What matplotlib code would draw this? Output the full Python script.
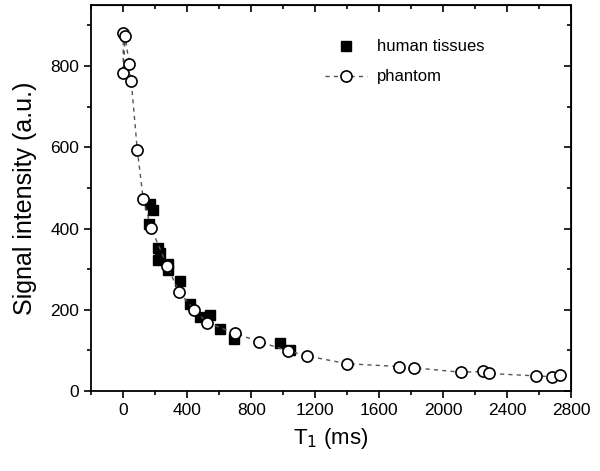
import numpy as np
import matplotlib
matplotlib.use("Agg")
from matplotlib import pyplot as plt
from matplotlib.ticker import MultipleLocator

plt.rcParams['font.family'] = ['Liberation Sans', 'DejaVu Sans']

# phantom (open circles, joined by dashed line)
phantom_t1 = [0, 12, 37, 0, 50, 88, 125, 175, 275, 350, 444, 525, 700, 850,
              1030, 1150, 1400, 1725, 1819, 2112, 2250, 2288, 2581, 2681, 2731]
phantom_si = [882, 875, 806, 783, 764, 594, 473, 401, 308, 243, 200, 168, 142, 121,
              99, 86, 67, 60, 57, 46, 48, 43, 37, 35, 40]

# human tissues (filled squares)
tissue_t1 = [165, 185, 163, 219, 231, 219, 281, 281, 356, 419, 481, 544, 606, 690, 981, 1044]
tissue_si = [460, 445, 412, 353, 340, 323, 312, 297, 270, 215, 183, 186, 152, 128, 118, 101]

fig = plt.figure(figsize=(6, 4.71), dpi=100)
ax = fig.add_axes([0.152, 0.170, 0.800, 0.819])

order = np.argsort(phantom_t1, kind="stable")
px = np.array(phantom_t1)[order]
py = np.array(phantom_si)[order]

ax.plot(tissue_t1, tissue_si, ls="none", marker="s", ms=7.5, mfc="black", mec="black",
        label="human tissues", zorder=3)
ax.plot(px, py, ls=(0, (3, 3)), color="#555555", lw=1.0, marker="o", ms=8,
        mfc="white", mec="black", mew=1.2, label="phantom", zorder=4)

ax.set_xlim(-200, 2800)
ax.set_ylim(0, 950)
ax.xaxis.set_major_locator(MultipleLocator(400))
ax.xaxis.set_minor_locator(MultipleLocator(200))
ax.yaxis.set_major_locator(MultipleLocator(200))
ax.yaxis.set_minor_locator(MultipleLocator(100))
ax.tick_params(which="both", direction="out", labelsize=12.5, width=1.2)
ax.tick_params(which="major", length=5)
ax.tick_params(which="minor", length=3)
for s in ax.spines.values():
    s.set_linewidth(1.3)

top = ax.secondary_xaxis("top")
top.xaxis.set_major_locator(MultipleLocator(400))
top.xaxis.set_minor_locator(MultipleLocator(200))
top.tick_params(which="both", direction="in", labeltop=False, width=1.2)
top.tick_params(which="major", length=5)
top.tick_params(which="minor", length=3)
right = ax.secondary_yaxis("right")
right.yaxis.set_major_locator(MultipleLocator(200))
right.yaxis.set_minor_locator(MultipleLocator(100))
right.tick_params(which="both", direction="in", labelright=False, width=1.2)
right.tick_params(which="major", length=5)
right.tick_params(which="minor", length=3)

ax.set_xlabel("T$_1$ (ms)", fontsize=16, labelpad=6)
ax.set_ylabel("Signal intensity (a.u.)", fontsize=18, labelpad=10)

ax.legend(loc="upper right", bbox_to_anchor=(0.85, 0.95), frameon=False, fontsize=12,
          handlelength=2.5, handletextpad=0.6, labelspacing=0.9)

fig.savefig("out.png", dpi=100)
